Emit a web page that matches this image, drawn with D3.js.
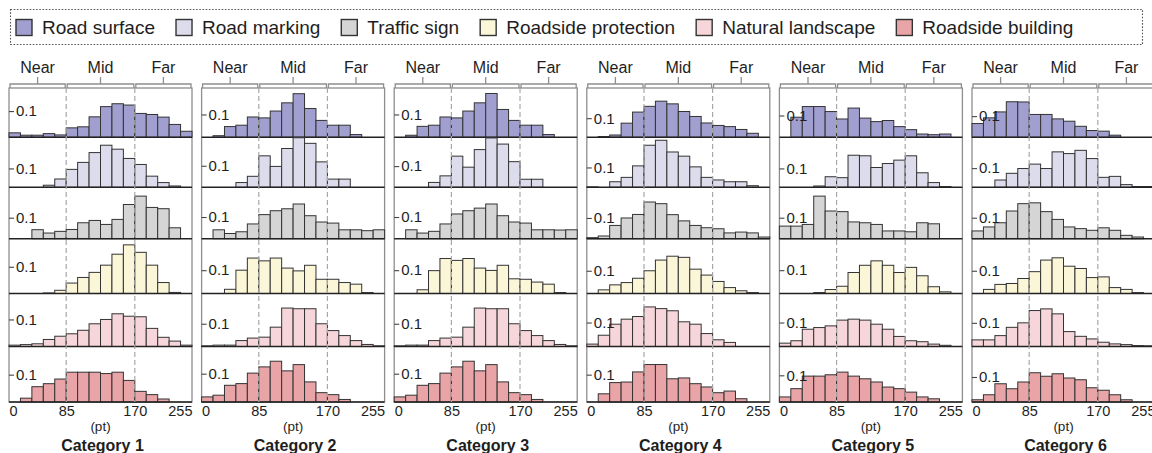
<!DOCTYPE html>
<html><head><meta charset="utf-8">
<script src="https://cdn.jsdelivr.net/npm/d3@7"></script>
<style>
body{margin:0;background:#fff;}
svg{display:block;font-family:"Liberation Sans",Arial,sans-serif;}
</style>
</head><body>
<svg id="chart" width="1152" height="453"></svg>
<script>
// ---------------- data ----------------
const categories = ["Category 1","Category 2","Category 3","Category 4","Category 5","Category 6"];
const seriesNames = ["Road surface","Road marking","Traffic sign","Roadside protection","Natural landscape","Roadside building"];
const zoneLabels = ["Near","Mid","Far"];
const xTickValues = [0,85,170,255];
const yTickValues = [0.1];
const binCount = 16;

// each category: one histogram (16 bins of share) per series, in seriesNames order
const cat1 = [
  [0.017,0.008,0.008,0.014,0.009,0.036,0.040,0.078,0.117,0.128,0.123,0.091,0.087,0.077,0.049,0.023],
  [0,0,0,0.011,0.044,0.095,0.132,0.184,0.223,0.202,0.153,0.121,0.059,0.025,0.007,0],
  [0,0,0.043,0.027,0.035,0.044,0.076,0.087,0.068,0.092,0.163,0.203,0.149,0.143,0.052,0],
  [0,0,0,0.002,0.012,0.039,0.060,0.079,0.106,0.147,0.182,0.154,0.106,0.041,0.004,0],
  [0.005,0.007,0.010,0.026,0.038,0.047,0.060,0.084,0.100,0.121,0.112,0.110,0.067,0.034,0.020,0.005],
  [0,0.014,0.056,0.067,0.084,0.109,0.109,0.109,0.104,0.109,0.079,0.039,0.027,0.011,0,0]
];
const cat2 = [
  [0,0.007,0.047,0.053,0.089,0.085,0.115,0.151,0.191,0.126,0.074,0.053,0.053,0.012,0,0],
  [0,0,0,0.022,0.051,0.146,0.097,0.180,0.230,0.204,0.118,0.038,0.038,0,0,0],
  [0,0.041,0.024,0.032,0.068,0.111,0.129,0.138,0.160,0.106,0.077,0.072,0.041,0.041,0.037,0.041],
  [0,0,0.018,0.100,0.152,0.140,0.152,0.109,0.097,0.121,0.061,0.061,0.047,0.040,0.004,0],
  [0.003,0.006,0.006,0.026,0.037,0.041,0.085,0.169,0.166,0.166,0.100,0.070,0.048,0.026,0.009,0.003],
  [0.018,0.024,0.059,0.065,0.102,0.124,0.144,0.110,0.132,0.071,0.033,0.026,0.009,0,0,0]
];
const cat3 = [
  [0,0.009,0.048,0.053,0.089,0.085,0.115,0.151,0.192,0.122,0.074,0.053,0.053,0.012,0,0],
  [0,0,0,0.023,0.054,0.147,0.095,0.178,0.233,0.204,0.121,0.038,0.038,0,0,0],
  [0,0.041,0.026,0.034,0.068,0.114,0.129,0.141,0.160,0.106,0.077,0.072,0.041,0.041,0.040,0.041],
  [0,0,0.016,0.098,0.150,0.142,0.150,0.109,0.099,0.121,0.063,0.061,0.049,0.040,0.004,0],
  [0.003,0.006,0.006,0.026,0.037,0.041,0.085,0.169,0.166,0.166,0.100,0.070,0.048,0.026,0.009,0.003],
  [0.018,0.024,0.059,0.065,0.102,0.124,0.144,0.110,0.132,0.071,0.033,0.026,0.009,0,0,0]
];
const cat4 = [
  [0,0.004,0.012,0.074,0.132,0.162,0.189,0.175,0.135,0.109,0.075,0.062,0.056,0.041,0.021,0],
  [0.002,0,0.028,0.050,0.108,0.212,0.237,0.178,0.157,0.103,0.050,0.037,0.028,0.028,0.008,0],
  [0.005,0.013,0.064,0.100,0.117,0.177,0.169,0.116,0.086,0.064,0.053,0.048,0.028,0.032,0.028,0.008],
  [0,0.016,0.038,0.048,0.067,0.100,0.147,0.164,0.159,0.107,0.081,0.053,0.026,0.012,0.004,0],
  [0.010,0.047,0.093,0.114,0.125,0.165,0.158,0.149,0.103,0.093,0.054,0.028,0.017,0,0,0],
  [0,0.030,0.071,0.073,0.110,0.137,0.137,0.085,0.088,0.067,0.055,0.034,0.040,0.012,0,0]
];
const cat5 = [
  [0,0.092,0.141,0.141,0.118,0.084,0.134,0.088,0.072,0.077,0.049,0.035,0.015,0.012,0.015,0],
  [0,0,0,0.007,0.056,0.051,0.170,0.167,0.105,0.126,0.144,0.167,0.077,0.025,0.004,0],
  [0.060,0.060,0.068,0.203,0.132,0.129,0.080,0.076,0.068,0.037,0.037,0.033,0.076,0.071,0,0],
  [0,0,0,0.004,0.017,0.031,0.090,0.121,0.140,0.121,0.090,0.112,0.076,0.029,0.007,0],
  [0.014,0.024,0.072,0.079,0.086,0.110,0.114,0.110,0.093,0.072,0.042,0.024,0.020,0.010,0.005,0],
  [0.019,0.050,0.097,0.097,0.102,0.112,0.097,0.087,0.075,0.056,0.050,0.037,0.019,0.012,0,0]
];
const cat6 = [
  [0.065,0.092,0.120,0.168,0.167,0.108,0.108,0.087,0.076,0.052,0.032,0.029,0.010,0,0,0],
  [0,0,0.038,0.073,0.098,0.121,0.098,0.185,0.176,0.193,0.150,0.052,0.057,0.014,0.004,0.004],
  [0.037,0.056,0.076,0.132,0.167,0.171,0.129,0.092,0.056,0.048,0.040,0.052,0.040,0.016,0.008,0],
  [0,0.018,0.040,0.044,0.066,0.096,0.147,0.157,0.120,0.110,0.070,0.073,0.026,0.018,0.004,0],
  [0.028,0.028,0.046,0.081,0.100,0.152,0.159,0.138,0.063,0.043,0.032,0.018,0.011,0.008,0.004,0.003],
  [0.009,0.029,0.073,0.053,0.080,0.117,0.103,0.113,0.096,0.089,0.057,0.047,0.029,0.009,0,0]
];
// upper y-limit of each small histogram (per category, per series)
const yLimits1 = [0.188,0.265,0.245,0.205,0.196,0.203];
const yLimits2 = [0.216,0.232,0.237,0.235,0.233,0.196];
const yLimits3 = [0.216,0.236,0.237,0.235,0.233,0.196];
const yLimits4 = [0.258,0.252,0.248,0.241,0.221,0.203];
const yLimits5 = [0.226,0.265,0.245,0.235,0.221,0.208];
const yLimits6 = [0.233,0.261,0.245,0.241,0.224,0.222];

const panelData = [cat1,cat2,cat3,cat4,cat5,cat6];
const panelLimits = [yLimits1,yLimits2,yLimits3,yLimits4,yLimits5,yLimits6];

// ---------------- styles / layout ----------------
const seriesColors = ["#a19fcf","#dcdced","#d5d5d5","#fcf6d9","#f6d6da","#e8a4a7"];
const panelLeft = 9, panelStep = 192.6, panelW = 183;
const frameTop = 88;
const rowBase = [137.3,187.3,238.7,293.5,346.5,402];
const ink = "#1e1e1e";
const fontFam = "Liberation Sans, Arial, sans-serif";

const svg = d3.select("#chart");

// ---------- legend ----------
const leg = svg.append("g");
leg.append("rect").attr("x",10.5).attr("y",9.5).attr("width",1132).attr("height",35)
  .attr("fill","none").attr("stroke","#555").attr("stroke-width",1.1).attr("stroke-dasharray","1.6,1.6");
let lx = 16;
seriesNames.forEach((name,i)=>{
  leg.append("rect").attr("x",lx).attr("y",19.5).attr("width",16).attr("height",16)
    .attr("fill",seriesColors[i]).attr("stroke","#333").attr("stroke-width",1.4);
  const t = leg.append("text").attr("x",lx+26).attr("y",34.3).attr("font-size",19)
    .attr("fill",ink).text(name);
  lx += 26 + t.node().getComputedTextLength() + 21;
});

// ---------- panels ----------
categories.forEach((cat,p)=>{
  const g = svg.append("g").attr("transform",`translate(${panelLeft+p*panelStep},0)`);
  const bins = d3.scaleBand().domain(d3.range(binCount)).range([0,panelW]).padding(0);
  const x = d3.scaleLinear().domain(xTickValues).range([0,bins(5),bins(11),panelW]);

  // zone bracket on top
  const zoneEdges = [[0,85],[85,170],[170,255]];
  zoneEdges.forEach(([a,b],k)=>{
    const xa = x(a), xb = x(b), xc = (xa+xb)/2;
    g.append("path").attr("d",`M${xa+1},${frameTop} V${frameTop-4} H${xb-1} V${frameTop}`)
      .attr("fill","none").attr("stroke","#8e8e8e").attr("stroke-width",1.3);
    g.append("line").attr("x1",xc).attr("x2",xc).attr("y1",frameTop-4).attr("y2",frameTop-11)
      .attr("stroke","#8e8e8e").attr("stroke-width",1.3);
    g.append("text").attr("x",xc).attr("y",73).attr("text-anchor","middle")
      .attr("font-size",16).attr("fill",ink).text(zoneLabels[k]);
  });

  // frame
  g.append("rect").attr("x",0).attr("y",frameTop).attr("width",panelW).attr("height",rowBase[5]-frameTop)
    .attr("fill","none").attr("stroke","#8e8e8e").attr("stroke-width",1.3);

  // rows
  const rows = panelData[p];
  rows.forEach((vals,r)=>{
    const top = r===0 ? frameTop : rowBase[r-1];
    const y = d3.scaleLinear().domain([0,panelLimits[p][r]]).range([rowBase[r],top]);
    g.append("g").selectAll("rect")
      .data(vals.map((v,i)=>({i,v})).filter(d=>d.v>0))
      .join("rect")
      .attr("x",d=>bins(d.i)).attr("width",bins.bandwidth())
      .attr("y",d=>y(d.v)).attr("height",d=>y(0)-y(d.v))
      .attr("fill",seriesColors[r]).attr("stroke","#333").attr("stroke-width",1);
    g.append("line").attr("x1",0).attr("x2",panelW).attr("y1",y(0)).attr("y2",y(0))
      .attr("stroke","#222").attr("stroke-width",1.4);
  });

  // dashed zone dividers
  [85,170].forEach(v=>{
    g.append("line").attr("x1",x(v)).attr("x2",x(v)).attr("y1",frameTop).attr("y2",rowBase[5])
      .attr("stroke","#a8a8a8").attr("stroke-width",1.2).attr("stroke-dasharray","5,3");
  });

  // y ticks (0.1) per row
  rows.forEach((vals,r)=>{
    const top = r===0 ? frameTop : rowBase[r-1];
    const y = d3.scaleLinear().domain([0,panelLimits[p][r]]).range([rowBase[r],top]);
    const ax = g.append("g").call(d3.axisRight(y).tickValues(yTickValues).tickSize(5).tickPadding(2)
      .tickFormat(d3.format(".1f")));
    ax.attr("font-size",15).attr("font-family",fontFam);
    ax.select(".domain").remove();
    ax.selectAll("line").attr("stroke","#444").attr("stroke-width",1.1);
    ax.selectAll("text").attr("fill",ink);
  });

  // x axis
  const xa = g.append("g").attr("transform",`translate(0,${rowBase[5]})`)
    .call(d3.axisBottom(x).tickValues(xTickValues).tickSize(0).tickPadding(4));
  xa.attr("font-size",14.5).attr("font-family",fontFam);
  xa.select(".domain").remove();
  xa.selectAll("text").attr("fill",ink)
    .attr("text-anchor",(d,i)=> i===0 ? "start" : (i===xTickValues.length-1 ? "end" : "middle"));

  g.append("text").attr("x",panelW/2).attr("y",431).attr("text-anchor","middle")
    .attr("font-size",13.5).attr("fill",ink).text("(pt)");
  g.append("text").attr("x",panelW/2+2).attr("y",451).attr("text-anchor","middle")
    .attr("font-size",16).attr("font-weight","bold").attr("fill",ink).text(cat);
});
</script>
</body></html>
